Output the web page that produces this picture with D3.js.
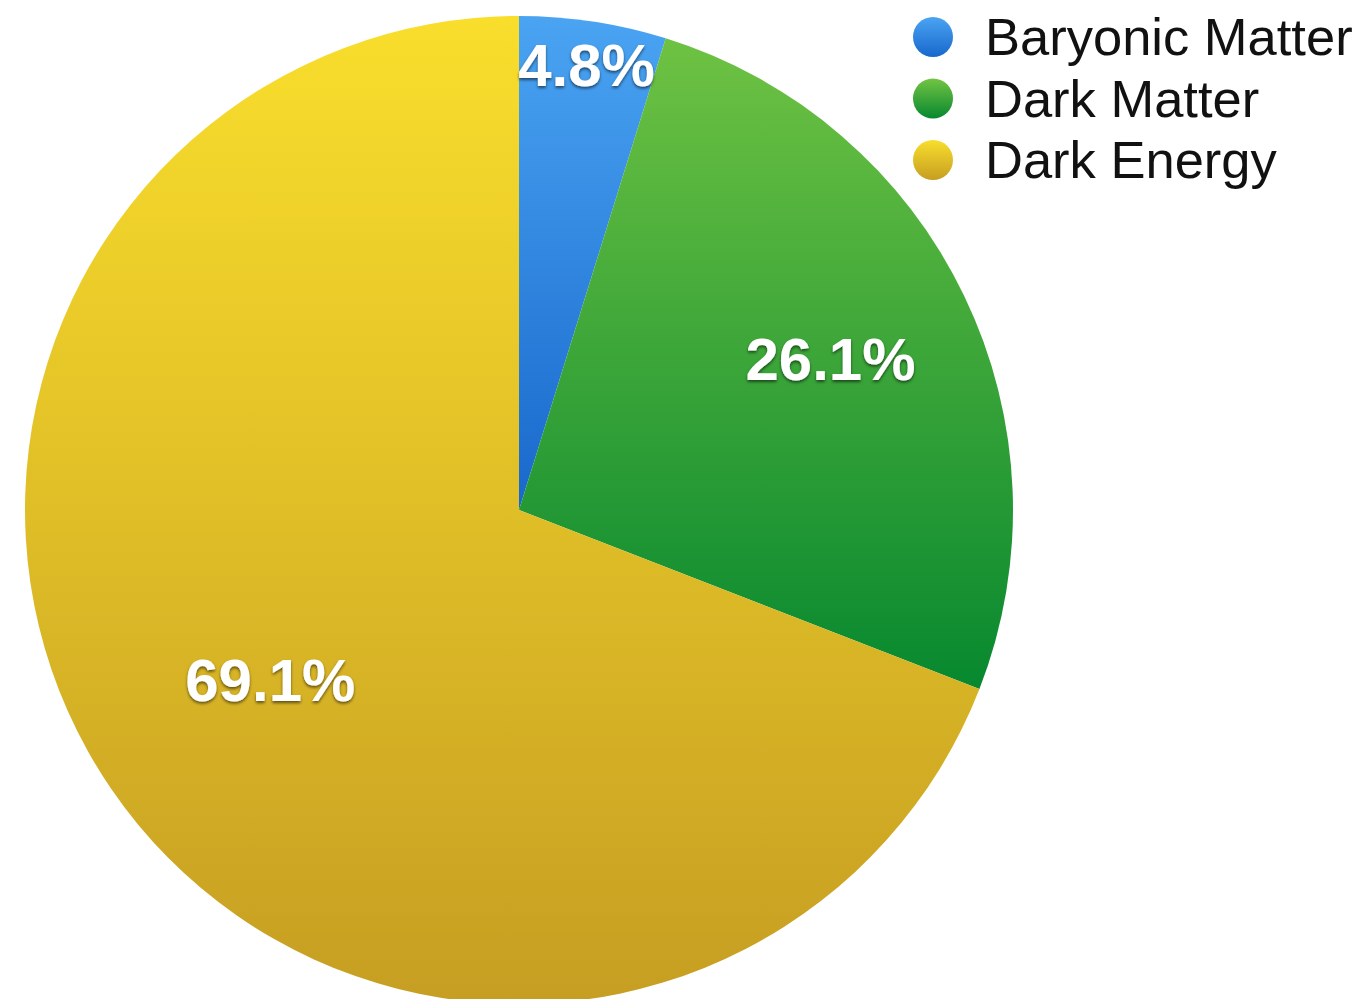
<!DOCTYPE html>
<html>
<head>
<meta charset="utf-8">
<script src="https://cdn.jsdelivr.net/npm/d3@7"></script>
<style>
  body { margin: 0; background: #fff; }
  svg { display: block; }
  .sliceLabel { font-family: "Liberation Sans", Arial, sans-serif; font-weight: bold; fill: #fff; }
  .legendText { font-family: "Liberation Sans", Arial, sans-serif; fill: #111; }
</style>
</head>
<body>
<svg id="chart" width="1364" height="999"></svg>
<script>
// data
let categories = ['Baryonic Matter', 'Dark Matter', 'Dark Energy'];
let values = [4.8, 26.1, 69.1];
let colorsTop = ['#4aa4f2', '#72c443', '#f9de2c'];
let colorsBottom = ['#1868cc', '#07882f', '#c69e22'];

let cx = 519, cy = 510, radius = 494;
// how far out each label sits, as a fraction of the radius
let labelRadius = [0.91, 0.70, 0.61];
// where each slice gradient ends (relative to pie centre)
let gradEnd = [0, 180, radius];

let svg = d3.select('#chart');
let defs = svg.append('defs');

categories.forEach((c, i) => {
  // gradients live in the pie group's coordinates (centre = 0,0)
  let g = defs.append('linearGradient')
    .attr('id', 'grad' + i)
    .attr('gradientUnits', 'userSpaceOnUse')
    .attr('x1', 0).attr('x2', 0)
    .attr('y1', -radius).attr('y2', gradEnd[i]);
  g.append('stop').attr('offset', 0).attr('stop-color', colorsTop[i]);
  g.append('stop').attr('offset', 1).attr('stop-color', colorsBottom[i]);

  // legend dot gradient
  let lg = defs.append('linearGradient')
    .attr('id', 'lgrad' + i)
    .attr('x1', 0).attr('x2', 0).attr('y1', 0).attr('y2', 1);
  lg.append('stop').attr('offset', 0).attr('stop-color', colorsTop[i]);
  lg.append('stop').attr('offset', 1).attr('stop-color', colorsBottom[i]);
});

let shadow = defs.append('filter').attr('id', 'shadow')
  .attr('x', '-20%').attr('y', '-20%').attr('width', '140%').attr('height', '150%');
shadow.append('feDropShadow')
  .attr('dx', 0).attr('dy', 2).attr('stdDeviation', 1.6)
  .attr('flood-color', '#000').attr('flood-opacity', 0.55);

let pie = d3.pie().sort(null).value(d => d);
let arcs = pie(values);
let arc = d3.arc().innerRadius(0).outerRadius(radius);

let pieG = svg.append('g').attr('transform', 'translate(' + cx + ',' + cy + ')');

pieG.selectAll('path.slice')
  .data(arcs)
  .enter().append('path')
  .attr('class', 'slice')
  .attr('d', arc)
  .attr('fill', (d, i) => 'url(#grad' + i + ')');

pieG.selectAll('text.sliceLabel')
  .data(arcs)
  .enter().append('text')
  .attr('class', 'sliceLabel')
  .attr('filter', 'url(#shadow)')
  .attr('text-anchor', 'middle')
  .attr('dominant-baseline', 'central')
  .style('font-size', '60px')
  .attr('transform', (d, i) => {
    let r = radius * labelRadius[i];
    let a = (d.startAngle + d.endAngle) / 2;
    return 'translate(' + (Math.sin(a) * r) + ',' + (-Math.cos(a) * r) + ')';
  })
  .text(d => d.data.toFixed(1) + '%');

// legend
let legend = svg.append('g').attr('transform', 'translate(933,37)');
let rowStep = 61.5;
let rows = legend.selectAll('g')
  .data(categories)
  .enter().append('g')
  .attr('transform', (d, i) => 'translate(0,' + (i * rowStep) + ')');

rows.append('circle')
  .attr('r', 20)
  .attr('fill', (d, i) => 'url(#lgrad' + i + ')');

rows.append('text')
  .attr('class', 'legendText')
  .attr('x', 52)
  .attr('y', 18)
  .style('font-size', '52.5px')
  .text(d => d);
</script>
</body>
</html>
